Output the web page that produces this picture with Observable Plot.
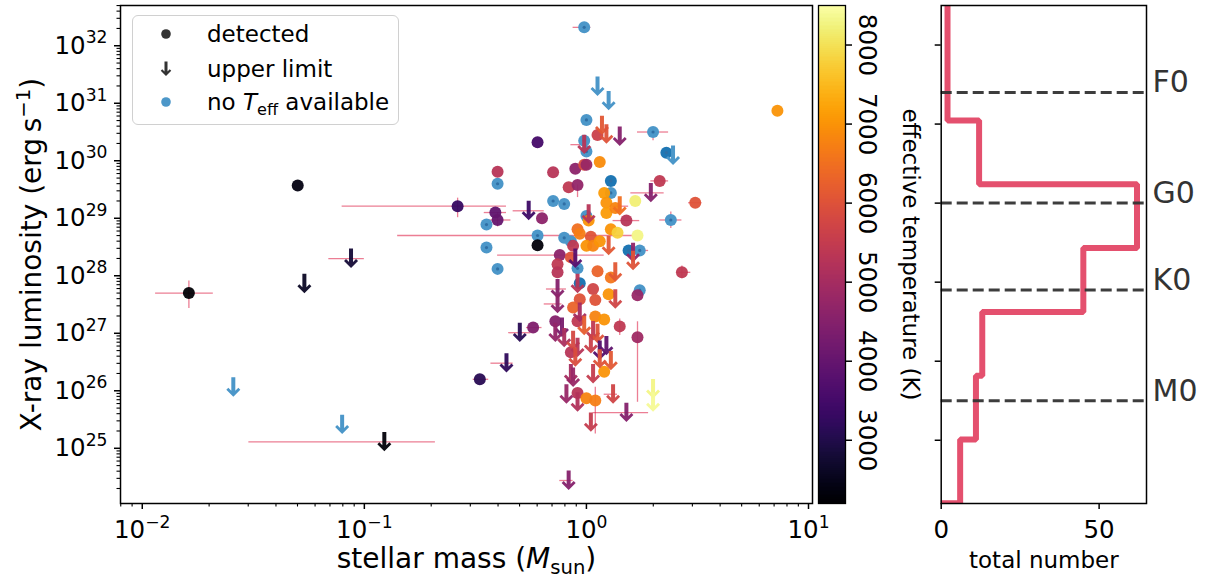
<!DOCTYPE html>
<html><head><meta charset="utf-8">
<script src="https://cdn.jsdelivr.net/npm/d3@7"></script>
<script src="https://cdn.jsdelivr.net/npm/@observablehq/plot@0.6"></script>
<style>
body{margin:0;background:#fff;font-family:"DejaVu Sans",sans-serif;}
#wrap{position:relative;width:1211px;height:588px;overflow:hidden;background:#fff;}
#wrap > svg{position:absolute;top:0;}
.legend{position:absolute;left:132px;top:15px;width:267px;height:110px;border:1.5px solid #d0d0d0;border-radius:6px;background:rgba(255,255,255,0.85);box-sizing:border-box;font-size:23px;color:#000;}
.legend .row{position:absolute;left:0;height:30px;width:100%;}
.legend .row svg{position:absolute;left:20px;top:0;}
.legend .row span.t{position:absolute;left:74px;top:0;line-height:30px;white-space:nowrap;}
</style></head><body><div id="wrap"></div>
<script>
// ---------------- data (log10 values) ----------------
// detected sources with effective temperature
const detLogMass = [-1.79,-1.30,-0.58,-0.41,-0.40,-0.40,-0.48,-0.24,-0.22,-0.22,-0.20,-0.15,-0.12,-0.13,-0.13,-0.08,-0.04,-0.05,-0.01,0.00,
  0.05,0.06,0.08,0.09,0.09,0.13,0.22,0.33,0.49,0.86,0.18,0.01,0.11,0.14,0.23,-0.04,-0.03,0.02,0.00,0.03,
  0.06,-0.06,-0.07,0.05,0.11,0.43,0.10,0.23,0.03,0.04,-0.03,-0.06,0.04,0.08,0.15,0.23,-0.14,-0.04,0.08,-0.04,
  0.00,0.04,-0.07];
const detLogLum = [27.70,29.57,29.21,29.10,28.97,29.81,26.20,27.10,30.32,28.53,29.00,29.80,28.36,28.20,28.06,29.54,29.58,29.86,29.93,29.93,
  30.45,29.98,29.44,29.27,29.09,29.18,29.30,29.65,29.27,30.87,28.96,28.96,28.81,28.75,28.70,28.81,28.73,28.68,28.52,28.52,
  28.60,28.52,28.32,28.08,27.97,28.06,27.68,27.66,27.77,27.58,27.59,27.45,27.29,27.24,27.12,26.93,27.21,27.21,26.33,25.96,
  25.87,25.83,26.67];
const detTeff = [2250,2400,3300,3900,4000,5300,3100,4400,3500,2300,4600,5300,4600,5400,5300,5400,4700,4600,5900,4800,
  5600,6900,7100,7000,7100,6800,8200,5400,6000,7000,5300,7000,7000,7800,8300,6500,6700,6000,7000,6800,
  7000,5400,6000,6300,6600,5400,7000,4800,5700,6000,6000,6300,6800,7000,5400,4900,4500,5400,7000,5300,
  6800,6700,5300];

// upper limits with effective temperature
const ulLogMass = [-1.27,-1.06,-0.91,-0.26,-0.30,-0.36,0.07,0.09,0.15,-0.01,0.29,0.15,0.01,0.10,0.21,0.21,-0.05,0.13,-0.04,-0.13,
  0.13,-0.13,-0.03,-0.11,-0.14,-0.10,-0.06,-0.04,-0.01,0.03,0.05,0.02,0.06,0.09,0.11,0.06,-0.05,-0.07,0.03,-0.09,
  -0.04,0.12,0.02,0.18,0.30,0.30,-0.08,-0.06];
const ulLogLum = [27.86,28.30,25.11,29.13,27.01,26.48,30.61,30.46,30.42,30.28,29.44,29.21,29.07,28.52,28.40,28.26,28.30,28.06,27.86,27.77,
  27.59,27.51,27.36,27.10,27.01,26.92,26.87,26.75,27.13,27.04,26.99,26.81,26.70,26.78,26.52,26.55,26.58,26.29,26.29,25.94,
  25.80,25.94,25.45,25.62,26.03,25.80,24.44,26.23];
const ulTeff = [2600,2800,2300,3400,3100,3200,6100,6000,4500,5300,4500,6500,5300,6100,4700,6000,3800,6100,5300,4500,
  5700,4600,5000,4300,4700,5100,5800,5300,6200,5400,6000,5600,3700,3900,6100,6000,5900,5000,5500,4800,
  5200,5700,5500,4500,8300,8400,4500,4800];

// detected sources without T_eff (dark = darker blue marker)
const noTLogMass = [-0.01,0.00,0.30,-0.01,0.00,0.36,-0.40,0.11,0.11,-0.15,-0.10,0.00,0.38,-0.45,-0.22,-0.10,-0.07,-0.45,0.19,0.24,
  -0.40,-0.04,-0.03,0.24];
const noTLogLum = [32.32,30.71,30.50,30.35,30.16,30.14,29.60,29.65,29.44,29.30,29.25,29.04,28.97,28.89,28.70,28.66,28.60,28.49,28.44,28.44,
  28.12,28.13,27.87,27.75];
const noTDark = [0,0,0,0,0,1,0,1,0,0,0,0,0,0,0,0,0,0,1,0,0,0,1,0];

// upper limits without T_eff
const noTUlLogMass = [-1.59,-1.10,0.05,0.10,0.39];
const noTUlLogLum = [26.06,25.41,31.29,31.04,30.09];

// horizontal (mass) error bars: at logL, from logMass lo to hi
const xErrLogLum = [27.70,29.21,25.11,28.70,28.36,28.30,25.62,32.32,30.50,29.44,29.10,28.97,29.13,28.97,30.28,25.94,29.65,27.10,27.01,26.48,
  26.20,27.51,29.21,28.96,28.06,29.27,27.77,28.44,24.44];
const xErrLo = [-1.94,-1.10,-1.52,-0.85,-0.40,-1.16,0.03,-0.06,0.23,0.20,-0.46,-0.45,-0.33,0.33,-0.07,0.08,0.29,-0.27,-0.35,-0.43,
  -0.51,-0.19,0.12,0.12,0.41,0.46,-0.18,0.21,-0.12];
const xErrHi = [-1.68,-0.36,-0.68,0.21,0.08,-1.00,0.28,0.02,0.37,0.35,-0.36,-0.34,-0.19,0.43,0.01,0.14,0.37,-0.20,-0.25,-0.33,
  -0.44,-0.11,0.19,0.24,0.47,0.52,-0.09,0.28,-0.06];
// vertical (luminosity) error bars: at logMass, from logL lo to hi
const yErrLogMass = [-1.79,-0.58,0.23,0.04,0.30,-0.04,0.43,0.15,-0.40,0.38];
const yErrLo = [27.43,29.01,25.80,25.25,30.35,29.36,27.95,26.96,28.85,28.82];
const yErrHi = [27.91,29.35,27.20,26.06,30.58,29.58,28.17,27.25,29.10,29.11];

// histogram of effective temperature (right panel)
const histEdges = [2203,3010,3817,4624,5431,6238,7045,7852,8659];
const histCounts = [6,11,13,45,62,12,2,2];
const spectralTeff = [7400,6000,4900,3500];
const spectralLabels = ["F0","G0","K0","M0"];

// ticks
const xMajor = [0.01,0.1,1,10];
const xTickLabels = ["10^{\u22122}","10^{\u22121}","10^{0}","10^{1}"];
const yMajor = [1e25,1e26,1e27,1e28,1e29,1e30,1e31,1e32];
const yTickLabels = ["10^{25}","10^{26}","10^{27}","10^{28}","10^{29}","10^{30}","10^{31}","10^{32}"];
const tempTicks = [3000,4000,5000,6000,7000,8000];
const countTicks = [0,50];

// ---------------- build tables ----------------
const det = detLogMass.map((m,i)=>({mass:10**m, lum:10**detLogLum[i], teff:detTeff[i]}));
const ul = ulLogMass.map((m,i)=>({mass:10**m, lum:10**ulLogLum[i], teff:ulTeff[i]}));
const noT = noTLogMass.map((m,i)=>({mass:10**m, lum:10**noTLogLum[i], dark:noTDark[i]}));
const noTUl = noTUlLogMass.map((m,i)=>({mass:10**m, lum:10**noTUlLogLum[i]}));
const xErr = xErrLogLum.map((l,i)=>({lum:10**l, lo:10**xErrLo[i], hi:10**xErrHi[i]}));
const yErr = yErrLogMass.map((m,i)=>({mass:10**m, lo:10**yErrLo[i], hi:10**yErrHi[i]}));
const histPts = [{c:0, t:histEdges[0]}];
histCounts.forEach((c,i)=>{histPts.push({c, t:histEdges[i]}); histPts.push({c, t:histEdges[i+1]});});

const minorTicks = (lo, hi) => { const out=[]; for (let e=Math.floor(Math.log10(lo))-1;e<=Math.ceil(Math.log10(hi));e++) for (let k=2;k<=9;k++){const v=k*10**e; if (v>=lo && v<=hi) out.push(v);} return out; };

const xDom = [10**-2.098, 10**1.018];
const yDom = [10**24.04, 10**32.70];
const colorOpt = {type:"linear", scheme:"inferno", domain:[2200,8500]};
const FONT = "DejaVu Sans, sans-serif";
const TICKFS = 24.5;

// downward arrow symbol (upper limit marker)
const ARROW = [[-2,-10],[2,-10],[2,3.4],[5,0.4],[7,2.4],[0,9.4],[-7,2.4],[-5,0.4],[-2,3.4]];
const arrowSym = { draw(ctx, size) {
  const s = Math.sqrt(size/Math.PI)/6;
  ctx.moveTo(ARROW[0][0]*s, ARROW[0][1]*s);
  for (let i=1;i<ARROW.length;i++) ctx.lineTo(ARROW[i][0]*s, ARROW[i][1]*s);
  ctx.closePath();
}};

const errStyle = {stroke:"crimson", strokeOpacity:0.55, strokeWidth:1.3};

const main = Plot.plot({
  width: 830, height: 588,
  marginLeft: 120, marginRight: 18, marginTop: 5, marginBottom: 85,
  x: {type:"log", domain:xDom},
  y: {type:"log", domain:yDom},
  color: colorOpt,
  style: {fontFamily: FONT, fontSize:"23px", background:"transparent", color:"black"},
  marks: [
    Plot.axisX({ticks: minorTicks(...xDom), tickSize:3.5, tickFormat:()=>"", label:null, strokeWidth:1.1}),
    Plot.axisX({ticks: xMajor, tickSize:6, tickPadding:11, tickFormat:d=>xTickLabels[xMajor.indexOf(d)], label:null, strokeWidth:1.5, fontSize:TICKFS}),
    Plot.axisY({ticks: minorTicks(...yDom), tickSize:3.5, tickFormat:()=>"", label:null, strokeWidth:1.1}),
    Plot.axisY({ticks: yMajor, tickSize:6, tickPadding:7, tickFormat:d=>yTickLabels[yMajor.indexOf(d)], label:null, strokeWidth:1.5, fontSize:TICKFS}),
    Plot.ruleY(xErr, {y:"lum", x1:"lo", x2:"hi", ...errStyle}),
    Plot.ruleX(yErr, {x:"mass", y1:"lo", y2:"hi", ...errStyle}),
    Plot.dot(noT, {x:"mass", y:"lum", r:6, fill:d=>d.dark ? "#1f77b4" : "#4c97c9", stroke:"none"}),
    Plot.dot(noT, {x:"mass", y:"lum", r:1.6, fill:"#2f6fa5", stroke:"none"}),
    Plot.dot(noTUl, {x:"mass", y:"lum", r:6, symbol:arrowSym, fill:"#4c97c9", stroke:"none"}),
    Plot.dot(det, {x:"mass", y:"lum", r:6, fill:"teff", fillOpacity:0.95, stroke:"none"}),
    Plot.dot(ul, {x:"mass", y:"lum", r:6, symbol:arrowSym, fill:"teff", fillOpacity:0.95, stroke:"none"}),
    Plot.frame({stroke:"black", strokeWidth:1.5}),
    Plot.text(["stellar mass (*{M}_{sun})"], {frameAnchor:"bottom", dy:64, fontSize:28, fill:"black", textAnchor:"middle"}),
    Plot.text(["X-ray luminosity (erg\u2009s^{\u22121})"], {frameAnchor:"left", dx:-88, rotate:-90, fontSize:28, fill:"black", textAnchor:"middle"})
  ]
});

const cbStep = 10;
const cbSteps = d3.range(2200, 8500, cbStep);
const cbar = Plot.plot({
  width: 140, height: 588,
  marginLeft: 18, marginRight: 95, marginTop: 5, marginBottom: 85,
  x: {domain:[0,1], axis:null},
  y: {domain:[2200,8500], axis:null},
  color: colorOpt,
  style: {fontFamily: FONT, fontSize:"23px", background:"transparent", color:"black"},
  marks: [
    Plot.rect(cbSteps, {x1:0, x2:1, y1:d=>d, y2:d=>Math.min(d+cbStep*2, 8500), fill:d=>d+cbStep/2, shapeRendering:"crispEdges"}),
    Plot.frame({stroke:"black", strokeWidth:1.3}),
    Plot.axisY({anchor:"right", ticks:tempTicks, tickSize:6, tickFormat:()=>"", label:null, strokeWidth:1.5}),
    Plot.text(tempTicks, {y:d=>d, text:d=>String(d), frameAnchor:"right", dx:21, rotate:90, fontSize:TICKFS, fill:"black", textAnchor:"middle"}),
    Plot.text(["effective temperature (K)"], {frameAnchor:"right", dx:65, rotate:90, fontSize:23, fill:"black", textAnchor:"middle"})
  ]
});

const hist = Plot.plot({
  width: 291, height: 588,
  marginLeft: 20.7, marginRight: 65, marginTop: 5, marginBottom: 85,
  x: {domain:[0,65]},
  y: {domain:[2200,8500]},
  style: {fontFamily: FONT, fontSize:"23px", background:"transparent", color:"black"},
  marks: [
    Plot.line(histPts, {x:"c", y:"t", stroke:"#e4506e", strokeWidth:6, clip:true, strokeLinejoin:"miter"}),
    Plot.ruleY(spectralTeff, {stroke:"#333", strokeOpacity:0.95, strokeWidth:3, strokeDasharray:"11,5"}),
    Plot.text(spectralTeff, {y:d=>d, text:(d,i)=>spectralLabels[i], frameAnchor:"right", dx:6, dy:-9.6, textAnchor:"start", fontSize:30, fill:"#333"}),
    Plot.frame({stroke:"black", strokeWidth:1.5}),
    Plot.axisY({ticks:tempTicks, tickSize:6, tickFormat:()=>"", label:null, strokeWidth:1.5}),
    Plot.axisX({ticks:countTicks, tickSize:6, tickPadding:11, label:null, strokeWidth:1.5, fontSize:TICKFS}),
    Plot.text(["total number"], {frameAnchor:"bottom", dy:64, fontSize:23, fill:"black", textAnchor:"middle"})
  ]
});

const wrap = document.getElementById("wrap");
[[main,0],[cbar,800],[hist,920]].forEach(([svg,left])=>{svg.style.left = left+"px"; wrap.appendChild(svg);});

// legend
const leg = document.createElement("div");
leg.className = "legend";
leg.innerHTML = `
<div class="row" style="top:3px"><svg width="26" height="30"><circle cx="13" cy="15" r="4.8" fill="#333"/></svg><span class="t">detected</span></div>
<div class="row" style="top:38px"><svg width="26" height="30"><path transform="translate(13,15) scale(0.75)" d="M-2,-10L2,-10L2,3.4L5,0.4L7,2.4L0,9.4L-7,2.4L-5,0.4L-2,3.4Z" fill="#333"/></svg><span class="t">upper limit</span></div>
<div class="row" style="top:71px"><svg width="26" height="30"><circle cx="13" cy="15" r="4.8" fill="#4c97c9"/></svg><span class="t">no <i>T</i><span style="font-size:70%;position:relative;top:0.3em">eff</span> available</span></div>`;
wrap.appendChild(leg);

// rich text: ^{sup}, _{sub}, *{italic}
function richify(svg){
  const NS = "http://www.w3.org/2000/svg";
  svg.querySelectorAll("text").forEach(t=>{
    const s = t.textContent;
    if (!/[\^_*]\{/.test(s)) return;
    const fs = parseFloat(getComputedStyle(t).fontSize) || 23;
    while (t.firstChild) t.removeChild(t.firstChild);
    const re = /([\^_*])\{([^}]*)\}/g;
    let last = 0, m, off = 0;
    const span = (str, o) => {
      const ts = document.createElementNS(NS, "tspan");
      ts.textContent = str;
      if (o.dy) ts.setAttribute("dy", o.dy);
      if (o.size) ts.setAttribute("font-size", o.size);
      if (o.italic) ts.setAttribute("font-style", "italic");
      t.appendChild(ts);
    };
    while ((m = re.exec(s))) {
      if (m.index > last) { span(s.slice(last, m.index), {dy:-off}); off = 0; }
      if (m[1] === "*") { span(m[2], {italic:true, dy:-off}); off = 0; }
      else { const sh = m[1] === "^" ? -0.42*fs : 0.22*fs; span(m[2], {dy:sh-off, size:0.7*fs}); off = sh; }
      last = re.lastIndex;
    }
    if (last < s.length) span(s.slice(last), {dy:-off});
  });
}
[main, cbar, hist].forEach(richify);
</script></body></html>
